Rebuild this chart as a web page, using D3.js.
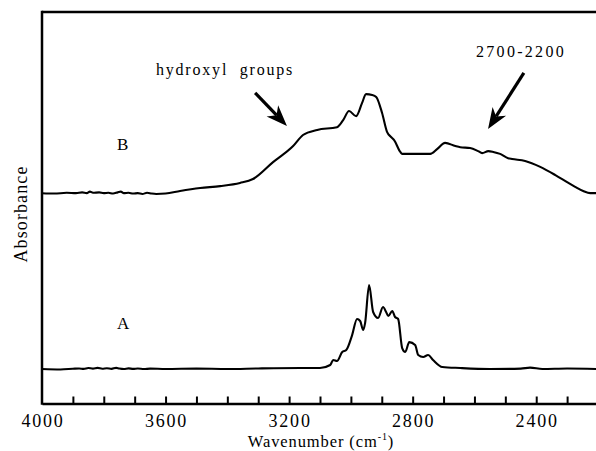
<!DOCTYPE html>
<html>
<head>
<meta charset="utf-8">
<script src="https://cdn.jsdelivr.net/npm/d3@7"></script>
<style>
  html, body { margin: 0; padding: 0; background: #fff; }
  svg { display: block; }
  text { font-family: "Liberation Serif", "Times New Roman", serif; fill: #000; }
</style>
</head>
<body>
<svg id="chart" width="596" height="451"></svg>
<script>
// FTIR spectra, wavenumber (cm-1) vs absorbance (offset for display)
const wavenumberB = [4000, 3960, 3920, 3890, 3870, 3855, 3845, 3835, 3815, 3800, 3785, 3770, 3755, 3745, 3735, 3720, 3705, 3690, 3675, 3660, 3645, 3630, 3600, 3553, 3488, 3423, 3359, 3317, 3252, 3187, 3155, 3109, 3045, 3025, 3006, 2983, 2964, 2951, 2931, 2918, 2899, 2883, 2870, 2860, 2840, 2834, 2743, 2721, 2695, 2662, 2646, 2614, 2588, 2575, 2555, 2539, 2517, 2491, 2478, 2436, 2387, 2338, 2300, 2274, 2248, 2225, 2200];
const absorbanceB = [0.539, 0.538, 0.540, 0.539, 0.541, 0.539, 0.543, 0.540, 0.541, 0.539, 0.540, 0.538, 0.541, 0.543, 0.539, 0.540, 0.538, 0.539, 0.537, 0.540, 0.538, 0.537, 0.538, 0.5445, 0.552, 0.557, 0.565, 0.575, 0.618, 0.659, 0.687, 0.700, 0.707, 0.725, 0.748, 0.735, 0.768, 0.791, 0.789, 0.784, 0.743, 0.695, 0.682, 0.674, 0.644, 0.639, 0.639, 0.651, 0.667, 0.659, 0.656, 0.654, 0.646, 0.641, 0.646, 0.644, 0.639, 0.628, 0.626, 0.621, 0.606, 0.585, 0.567, 0.555, 0.5445, 0.539, 0.539];

const wavenumberA = [4000, 3940, 3900, 3880, 3865, 3850, 3835, 3820, 3805, 3790, 3775, 3760, 3750, 3735, 3720, 3705, 3690, 3670, 3650, 3600, 3500, 3400, 3300, 3164, 3100, 3067, 3057, 3045, 3028, 3015, 2996, 2980, 2970, 2960, 2954, 2941, 2928, 2912, 2896, 2886, 2879, 2866, 2857, 2847, 2834, 2824, 2811, 2792, 2782, 2766, 2750, 2734, 2704, 2646, 2550, 2450, 2420, 2380, 2300, 2200];
const absorbanceA = [0.0916, 0.0905, 0.0922, 0.0930, 0.0918, 0.0941, 0.0925, 0.0945, 0.0922, 0.0935, 0.0920, 0.0945, 0.0928, 0.0915, 0.0932, 0.0918, 0.0930, 0.0915, 0.0925, 0.0916, 0.0925, 0.0916, 0.0930, 0.0941, 0.0941, 0.1018, 0.1145, 0.1120, 0.1349, 0.1400, 0.1780, 0.2188, 0.2137, 0.1908, 0.2087, 0.3053, 0.2366, 0.2214, 0.2494, 0.2366, 0.2265, 0.2392, 0.2239, 0.2188, 0.1450, 0.1349, 0.1600, 0.1527, 0.1272, 0.1221, 0.1272, 0.1145, 0.0967, 0.0941, 0.0916, 0.0925, 0.0950, 0.0916, 0.0930, 0.0916];

const majorTicks = [4000, 3600, 3200, 2800, 2400];
const minorTicks = [3900, 3800, 3700, 3600, 3500, 3400, 3300, 3200, 3100, 3000, 2900, 2800, 2700, 2600, 2500, 2400, 2300];

const seriesLabels = [
  { text: "B", w: 3757, a: 0.649 },
  { text: "A", w: 3757, a: 0.193 }
];
const annotations = [
  { text: "hydroxyl  groups", w: 3631, a: 0.840, spacing: 1.8, size: 16 },
  { text: "2700-2200", w: 2595, a: 0.885, spacing: 2.3, size: 16 }
];
const arrows = [
  { from: [3310, 0.794], to: [3207, 0.710] },
  { from: [2440, 0.845], to: [2556, 0.702] }
];

const svg = d3.select("#chart");
const plotLeft = 42, plotTop = 12, plotBottom = 405, plotRight = 598;
const axisY = 403.5;

const x = d3.scaleLinear().domain([4000, 2200]).range([plotLeft, plotRight]);
const y = d3.scaleLinear().domain([0, 1]).range([plotBottom, plotTop]);

const line = d3.line()
  .x(d => x(d[0]))
  .y(d => y(d[1]))
  .curve(d3.curveMonotoneX);

const plot = svg.append("g");

[[wavenumberB, absorbanceB], [wavenumberA, absorbanceA]].forEach(([w, a]) => {
  plot.append("path")
    .datum(w.map((v, i) => [v, a[i]]))
    .attr("d", line)
    .attr("fill", "none")
    .attr("stroke", "#000")
    .attr("stroke-width", 2.1)
    .attr("stroke-linejoin", "round");
});

// Frame: left and top spines
svg.append("line").attr("x1", plotLeft).attr("x2", plotLeft).attr("y1", plotTop - 1.2).attr("y2", axisY + 1.2)
  .attr("stroke", "#000").attr("stroke-width", 2.5);
svg.append("line").attr("x1", plotLeft).attr("x2", 596).attr("y1", plotTop).attr("y2", plotTop)
  .attr("stroke", "#000").attr("stroke-width", 2.5);

// Bottom axis with inward ticks
const xAxis = d3.axisBottom(x)
  .tickValues(minorTicks)
  .tickSize(-7)
  .tickSizeOuter(0)
  .tickFormat("");
const gx = svg.append("g").attr("transform", `translate(0,${axisY})`).call(xAxis);
gx.select(".domain").attr("stroke", "#000").attr("stroke-width", 2.5);
gx.selectAll(".tick line").attr("stroke", "#000").attr("stroke-width", 2);

svg.append("g").selectAll("text")
  .data(majorTicks)
  .join("text")
  .attr("x", d => x(d) + 1)
  .attr("y", 427)
  .attr("text-anchor", "middle")
  .attr("font-size", 18)
  .attr("letter-spacing", 1.8)
  .text(d => d);

// Axis titles
const xt = svg.append("text")
  .attr("x", 321).attr("y", 447)
  .attr("text-anchor", "middle")
  .attr("font-size", 16.5)
  .attr("letter-spacing", 0.9);
xt.append("tspan").text("Wavenumber (cm");
xt.append("tspan").attr("font-size", 10).attr("dy", -7).text("-1");
xt.append("tspan").attr("dy", 7).text(")");

svg.append("text")
  .attr("transform", "translate(27,214) rotate(-90)")
  .attr("text-anchor", "middle")
  .attr("font-size", 18)
  .attr("letter-spacing", 1.1)
  .text("Absorbance");

// Series labels
svg.append("g").selectAll("text")
  .data(seriesLabels)
  .join("text")
  .attr("x", d => x(d.w))
  .attr("y", d => y(d.a))
  .attr("font-size", 17)
  .text(d => d.text);

// Annotations
svg.append("g").selectAll("text")
  .data(annotations)
  .join("text")
  .attr("x", d => x(d.w))
  .attr("y", d => y(d.a))
  .attr("font-size", d => d.size)
  .attr("letter-spacing", d => d.spacing)
  .style("white-space", "pre")
  .text(d => d.text);

// Arrows with barbed heads
arrows.forEach(ar => {
  const x0 = x(ar.from[0]), y0 = y(ar.from[1]);
  const x1 = x(ar.to[0]), y1 = y(ar.to[1]);
  const dx = x1 - x0, dy = y1 - y0, len = Math.hypot(dx, dy);
  const ux = dx / len, uy = dy / len, nx = -uy, ny = ux;
  const L = 21, W = 8, notch = 15;
  const bx = x1 - ux * L, by = y1 - uy * L;
  const mx = x1 - ux * notch, my = y1 - uy * notch;
  svg.append("line")
    .attr("x1", x0).attr("y1", y0).attr("x2", mx).attr("y2", my)
    .attr("stroke", "#000").attr("stroke-width", 3.2);
  svg.append("path")
    .attr("d", `M${x1},${y1}L${bx + nx * W},${by + ny * W}L${mx},${my}L${bx - nx * W},${by - ny * W}Z`)
    .attr("fill", "#000");
});
</script>
</body>
</html>
